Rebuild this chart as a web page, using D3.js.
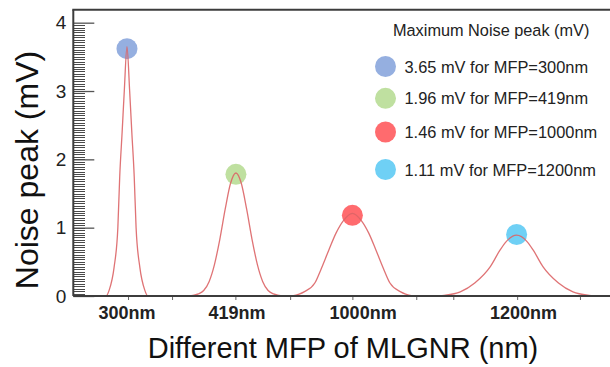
<!DOCTYPE html>
<html>
<head>
<meta charset="utf-8">
<script src="https://cdn.jsdelivr.net/npm/d3@7"></script>
<style>
  body { margin: 0; background: #fff; }
  svg { display: block; font-family: "Liberation Sans", Arial, sans-serif; }
</style>
</head>
<body>
<svg id="chart" width="610" height="367"></svg>
<script>
// x runs in arbitrary "position" units, the four MFP groups are placed along it
const categories = ["300nm", "419nm", "1000nm", "1200nm"];
const labelPos = [10, 30.5, 54, 83.9];
const tickPos = [10.2, 18.4, 30.2, 40.4, 52, 63.9, 70.8, 82.7, 94.4];

// noise curves, one array of [x, mV] per MFP
const curve300 = [[5, 0], [6.1, 0], [6.7, 0.09], [7.6, 0.42], [8.3, 1.0], [8.65, 1.75], [9.1, 2.4], [9.5, 3.0], [10, 3.65],
                  [10.5, 3.0], [10.9, 2.4], [11.35, 1.75], [11.7, 1.0], [12.4, 0.42], [13.3, 0.09], [13.9, 0], [15, 0]];
const curve419 = [[21.5, 0], [22.3, 0.01], [23.3, 0.03], [24.3, 0.08], [25.3, 0.21], [26.3, 0.46], [27.3, 0.83], [28.3, 1.27],
                  [29.3, 1.65], [30.3, 1.80], [31.3, 1.65], [32.3, 1.27], [33.3, 0.83], [34.3, 0.46], [35.3, 0.21],
                  [36.3, 0.08], [37.3, 0.03], [38.3, 0.01], [39.1, 0]];
const curve1000 = [[40.8, 0], [43, 0.06], [45, 0.19], [46.2, 0.4], [47.6, 0.67], [48.95, 0.92], [50.3, 1.1], [52, 1.21],
                   [53.7, 1.1], [55.05, 0.92], [56.4, 0.67], [57.8, 0.4], [59, 0.19], [61, 0.06], [63.2, 0]];
const curve1200 = [[67, 0], [69.1, 0.01], [72.1, 0.06], [74.8, 0.19], [77.7, 0.43], [79.5, 0.67], [80.7, 0.8], [82.6, 0.89],
                   [84.5, 0.8], [85.7, 0.67], [87.5, 0.43], [90.4, 0.19], [93.1, 0.06], [96.1, 0.01], [98.2, 0]];
const curves = [curve300, curve419, curve1000, curve1200];

// marker dots on the peaks, and the legend
const markerX = [10, 30.3, 52, 82.6];
const markerY = [3.62, 1.78, 1.18, 0.9];
const legendTitle = "Maximum Noise peak (mV)";
const legendLabels = ["3.65 mV for MFP=300nm", "1.96 mV for MFP=419nm", "1.46 mV for MFP=1000nm", "1.11 mV for MFP=1200nm"];
const colors = ["#95afe0", "#bfe0a0", "#ff6b6e", "#6fd0f5"];

const yMajor = [0, 1, 2, 3, 4];
const yMinorPerUnit = 28;

const svg = d3.select("#chart");
const m = { left: 73.3, right: 610, top: 9.7, bottom: 296 };

const x = d3.scaleLinear().domain([0, 100]).range([m.left, m.right]);
const y = d3.scaleLinear().domain([0, 4.19]).range([m.bottom, m.top]);

const axisColor = "#3c3c3c";

// major y ticks
svg.append("g")
   .attr("transform", `translate(${m.left},0)`)
   .call(d3.axisLeft(y).tickValues(yMajor).tickSize(-21).tickPadding(7).tickFormat(d3.format("d")))
   .call(g => g.select(".domain").remove())
   .call(g => g.selectAll("line").attr("stroke", "#555").attr("stroke-width", 1.3))
   .call(g => g.selectAll("text").attr("font-size", 19).attr("fill", "#222"));

// minor y ticks
const minorVals = d3.range(1, 4 * yMinorPerUnit).map(i => i / yMinorPerUnit);
const mg = svg.append("g").attr("shape-rendering", "crispEdges");
mg.selectAll("line")
  .data(minorVals)
  .join("line")
  .attr("x1", 73)
  .attr("x2", 85)
  .attr("y1", d => Math.round(y(d)) + 0.5)
  .attr("y2", d => Math.round(y(d)) + 0.5)
  .attr("stroke", "#4a4a4a")
  .attr("stroke-width", 1);

// x ticks (unlabelled marks)
svg.append("g")
   .attr("transform", `translate(0,${m.bottom})`)
   .call(d3.axisBottom(x).tickValues(tickPos).tickSize(4).tickFormat(""))
   .call(g => g.select(".domain").remove())
   .call(g => g.selectAll("line").attr("stroke", "#666").attr("stroke-width", 1));

// category labels
svg.append("g")
   .selectAll("text")
   .data(categories)
   .join("text")
   .attr("x", (d, i) => x(labelPos[i]))
   .attr("y", 319)
   .attr("text-anchor", "middle")
   .attr("font-size", 18)
   .attr("font-weight", "bold")
   .attr("fill", "#222")
   .text(d => d);

// peak markers
svg.append("g")
   .selectAll("circle")
   .data(markerX)
   .join("circle")
   .attr("cx", d => x(d))
   .attr("cy", (d, i) => y(markerY[i]))
   .attr("r", 10.5)
   .attr("fill", (d, i) => colors[i]);

// noise curves
const curveLine = d3.line()
                    .x(d => x(d[0]))
                    .y(d => y(d[1]))
                    .curve(d3.curveMonotoneX);

svg.append("g")
   .selectAll("path")
   .data(curves)
   .join("path")
   .attr("d", curveLine)
   .attr("fill", "none")
   .attr("stroke", "#db6466")
   .attr("stroke-width", 1.3)
   .attr("stroke-opacity", 0.9);

// legend
const legend = svg.append("g");
legend.append("text")
      .attr("x", 393)
      .attr("y", 36)
      .attr("font-size", 16.3)
      .attr("fill", "#222")
      .text(legendTitle);

const legendRowY = [66.5, 98.3, 132, 169.5];
const rows = legend.selectAll(".row")
                   .data(legendLabels)
                   .join("g")
                   .attr("class", "row")
                   .attr("transform", (d, i) => `translate(385.5,${legendRowY[i]})`);
rows.append("circle")
    .attr("r", 10.5)
    .attr("fill", (d, i) => colors[i]);
rows.append("text")
    .attr("x", 19)
    .attr("y", 6)
    .attr("font-size", 16.4)
    .attr("fill", "#222")
    .text(d => d);

// axis titles
svg.append("text")
   .attr("transform", "translate(38,170) rotate(-90)")
   .attr("text-anchor", "middle")
   .attr("font-size", 32)
   .attr("fill", "#111")
   .text("Noise peak (mV)");

svg.append("text")
   .attr("x", 343)
   .attr("y", 358)
   .attr("text-anchor", "middle")
   .attr("font-size", 29)
   .attr("fill", "#111")
   .text("Different MFP of MLGNR (nm)");

// frame: left axis, top line, bottom axis line
svg.append("line").attr("x1", m.left).attr("x2", m.left).attr("y1", m.top).attr("y2", m.bottom)
   .attr("stroke", axisColor).attr("stroke-width", 2);
svg.append("line").attr("x1", m.left - 1).attr("x2", m.right).attr("y1", m.top).attr("y2", m.top)
   .attr("stroke", axisColor).attr("stroke-width", 2);
svg.append("line").attr("x1", m.left).attr("x2", m.right).attr("y1", m.bottom).attr("y2", m.bottom)
   .attr("stroke", axisColor).attr("stroke-width", 2);
</script>
</body>
</html>
